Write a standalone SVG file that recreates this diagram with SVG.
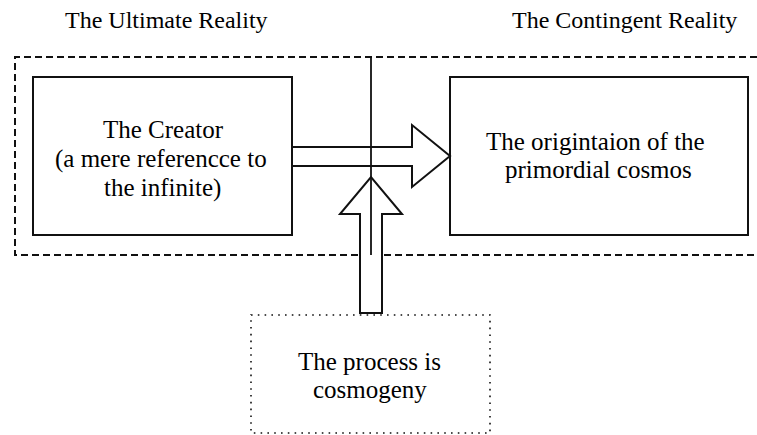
<svg xmlns="http://www.w3.org/2000/svg" width="757" height="435" viewBox="0 0 757 435">
<rect width="757" height="435" fill="#fff"/>
<g id="region-ultimate">
<path d="M757 57 H15 V255 H757" fill="none" stroke="#111" stroke-width="2" stroke-dasharray="7 4"/>
<text x="65" y="28" font-size="24" font-family="'Liberation Serif', serif">The Ultimate Reality</text>
<text x="512" y="28" font-size="24" font-family="'Liberation Serif', serif">The Contingent Reality</text>
</g>
<g id="creator">
<rect x="33" y="77" width="259" height="158" fill="#fff" stroke="#111" stroke-width="2"/>
<text x="103" y="138" font-size="25" font-family="'Liberation Serif', serif">The Creator</text>
<text x="55" y="167" font-size="25" font-family="'Liberation Serif', serif">(a mere referencce to</text>
<text x="104" y="196" font-size="25" font-family="'Liberation Serif', serif">the infinite)</text>
</g>
<g id="cosmos">
<rect x="450" y="77" width="298" height="158" fill="#fff" stroke="#111" stroke-width="2"/>
<text x="486" y="150" font-size="25" font-family="'Liberation Serif', serif">The origintaion of the</text>
<text x="505" y="178" font-size="25" font-family="'Liberation Serif', serif">primordial cosmos</text>
</g>
<g id="process">
<rect x="251" y="315" width="239" height="118" fill="none" stroke="#111" stroke-width="1.6" stroke-dasharray="1.6 5.2"/>
<text x="298" y="370" font-size="25" font-family="'Liberation Serif', serif">The process is</text>
<text x="313" y="398" font-size="25" font-family="'Liberation Serif', serif">cosmogeny</text>
</g>
<g id="connectors" fill="#fff" stroke="#111" stroke-width="2">
<path d="M292 147 H412 V125 L450 156 L412 187 V166 H292 Z"/>
<path d="M360 313 V214 H340 L371 177 L402 214 H382 V313 Z"/>
<line x1="371" y1="57" x2="371" y2="255" stroke-width="1.8"/>
</g>
</svg>
